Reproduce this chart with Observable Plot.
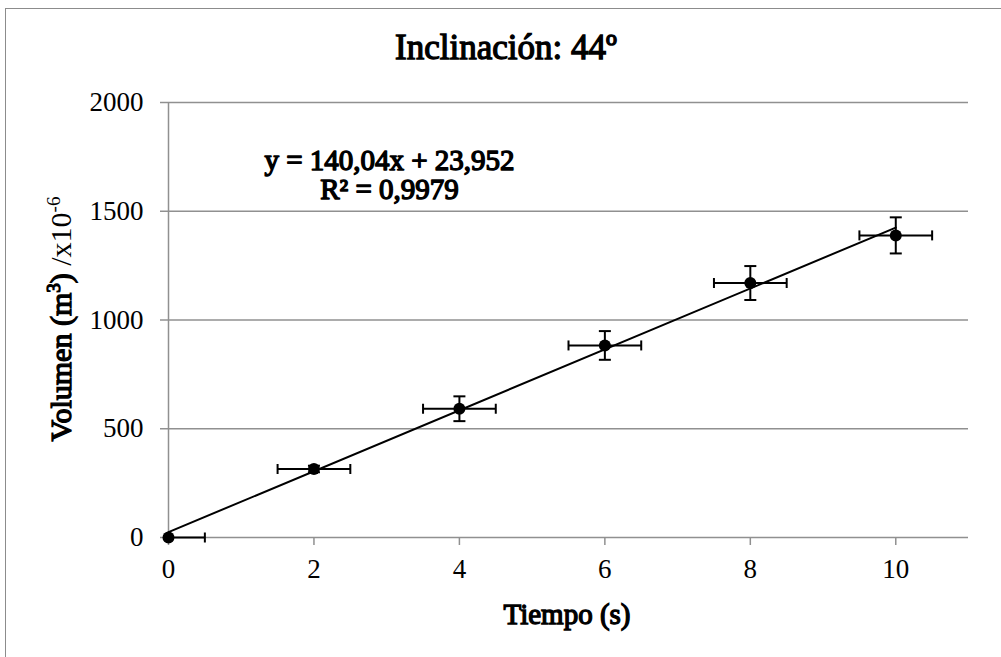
<!DOCTYPE html>
<html>
<head>
<meta charset="utf-8">
<script src="https://cdn.jsdelivr.net/npm/d3@7"></script>
<script src="https://cdn.jsdelivr.net/npm/@observablehq/plot@0.6"></script>
<style>
  html, body { margin: 0; padding: 0; background: #fff; overflow: hidden; }
  #wrap { position: relative; width: 1001px; height: 657px; overflow: hidden; font-family: "Liberation Serif", "Times New Roman", serif; color: #000; }
  #border { position: absolute; left: 5px; top: 8px; width: 1100px; height: 800px; border-left: 1px solid #8c8c8c; border-top: 1px solid #8c8c8c; }
  .fb { font-weight: normal; -webkit-text-stroke: 1.3px #000; }
  #title { position: absolute; left: 506px; top: 28px; transform: translateX(-50%); font-size: 35px; line-height: 40px; white-space: nowrap; }
  #ylabel { position: absolute; left: 61px; top: 319px; transform: translate(-50%, -50%) rotate(-90deg); font-size: 30px; line-height: 30px; white-space: nowrap; }
  #ylabel sup { font-size: 19px; vertical-align: 11px; line-height: 0; }
  #xlabel { position: absolute; left: 567px; top: 598px; transform: translateX(-50%); font-size: 29px; line-height: 32px; white-space: nowrap; }
  #chart { position: absolute; left: 0; top: 0; }
</style>
</head>
<body>
<div id="wrap">
  <div id="border"></div>
  <div id="chart"></div>
  <div id="title" class="fb">Inclinación: 44º</div>
  <div id="ylabel"><span class="fb">Volumen (m<sup>3</sup>)</span> /x10<sup>-6</sup></div>
  <div id="xlabel" class="fb">Tiempo (s)</div>
</div>
<script>
const time = [0, 2, 4, 6, 8, 10];
const volume = [0, 315, 592, 883, 1170, 1389];
const volumeErr = [0, 15, 57, 66, 78, 83];
const timeErr = [0.5, 0.5, 0.5, 0.5, 0.5, 0.5];
const xTicks = [0, 2, 4, 6, 8, 10];
const yTicks = [0, 500, 1000, 1500, 2000];
const equationText = "y = 140,04x + 23,952\nR² = 0,9979";

const data = time.map((t, i) => ({ t, v: volume[i], ev: volumeErr[i], et: timeErr[i] }));
const dataV = data.filter(d => d.ev > 0);
const dataLeft = data.filter(d => d.t - d.et >= 0);

const capH = { draw(ctx, size) { const r = Math.sqrt(size / Math.PI); ctx.moveTo(-r, 0); ctx.lineTo(r, 0); } };
const capV = { draw(ctx, size) { const r = Math.sqrt(size / Math.PI); ctx.moveTo(0, -r); ctx.lineTo(0, r); } };

const grid = "#909090";
const serif = "'Liberation Serif', 'Times New Roman', serif";

const chart = Plot.plot({
  width: 1001,
  height: 657,
  marginLeft: 168,
  marginRight: 33,
  marginTop: 102,
  marginBottom: 120,
  style: { fontFamily: serif, fontSize: "27px", background: "transparent", color: "black" },
  x: { domain: [0, 11] },
  y: { domain: [0, 2000] },
  marks: [
    Plot.ruleY(yTicks, { stroke: grid, strokeWidth: 1.5 }),
    Plot.ruleX([0], { y1: 0, y2: 2000, stroke: grid, strokeWidth: 1.5 }),
    Plot.axisY({ ticks: yTicks, tickSize: 8, tickPadding: 17, stroke: grid, strokeWidth: 1.5, fill: "black", fontSize: 27, label: null, tickFormat: d => String(d) }),
    Plot.axisX({ ticks: xTicks, tickSize: 8, tickPadding: 13, stroke: grid, strokeWidth: 1.5, fill: "black", fontSize: 27, label: null, tickFormat: d => String(d) }),
    Plot.linearRegressionY(data, { x: "t", y: "v", ci: 0, stroke: "black", strokeWidth: 2 }),
    Plot.link(data, { x1: d => Math.max(0, d.t - d.et), x2: d => d.t + d.et, y1: "v", y2: "v", stroke: "black", strokeWidth: 2 }),
    Plot.link(dataV, { x1: "t", x2: "t", y1: d => d.v - d.ev, y2: d => d.v + d.ev, stroke: "black", strokeWidth: 2 }),
    Plot.dot(dataLeft, { x: d => d.t - d.et, y: "v", symbol: capV, r: 5, fill: "none", stroke: "black", strokeWidth: 2 }),
    Plot.dot(data, { x: d => d.t + d.et, y: "v", symbol: capV, r: 5, fill: "none", stroke: "black", strokeWidth: 2 }),
    Plot.dot(dataV, { x: "t", y: d => d.v - d.ev, symbol: capH, r: 6, fill: "none", stroke: "black", strokeWidth: 2 }),
    Plot.dot(dataV, { x: "t", y: d => d.v + d.ev, symbol: capH, r: 6, fill: "none", stroke: "black", strokeWidth: 2 }),
    Plot.dot(data, { x: "t", y: "v", r: 6, fill: "black", stroke: "none" }),
    Plot.text([equationText], { frameAnchor: "top-left", dx: 221, dy: 47, text: d => d, textAnchor: "middle", lineAnchor: "top", lineHeight: 1.0, fontSize: 29, fontWeight: "normal", fill: "black", stroke: "black", strokeWidth: 1.4 })
  ]
});
document.getElementById("chart").appendChild(chart);
</script>
</body>
</html>
